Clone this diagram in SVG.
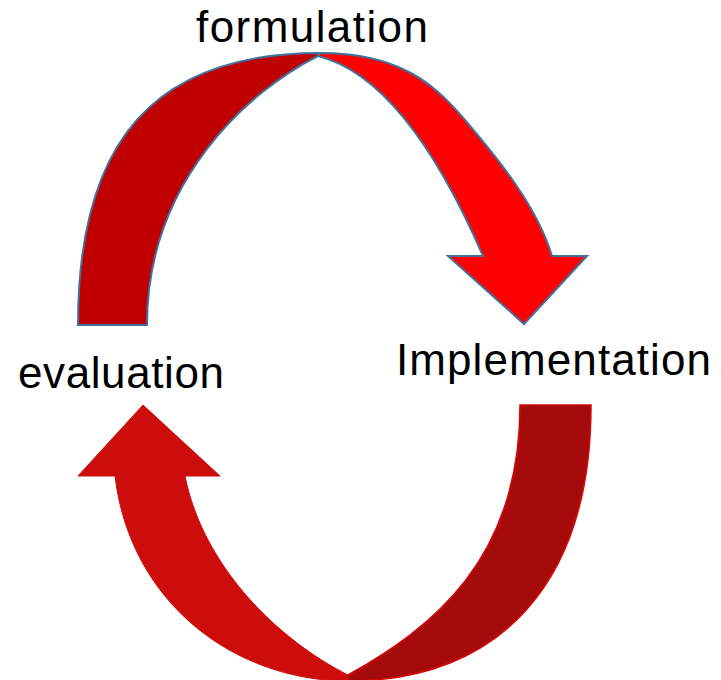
<svg xmlns="http://www.w3.org/2000/svg" width="721" height="680" viewBox="0 0 721 680">
<style>
.lbl{font-family:"Liberation Sans",Arial,sans-serif;font-size:44px;fill:#000}
.top{stroke:#41719C;stroke-width:2;stroke-linejoin:miter}
</style>
<rect width="721" height="680" fill="#fff"/>
<g id="connectors">
<g id="arc-top">
<path class="top" fill="#C00000" d="M78,325 C78,140 155,53 320,53 L318,56 C250,90 147,180 147,325 Z"/>
<path class="top" fill="#FF0000" d="M320,53 C400,53 434,84 465,120 C497.4,158.1 537,206 552,256 L587,256 L524,324 L448,256 L483,256 C451,182.4 394.6,75.2 318,56 Z"/>
</g>
<g id="arc-bottom">
<path fill="#A50B0B" stroke="#D40808" stroke-width="1.5" d="M520,405 L591,405 C591,585 498,681 348,681 L348,675 C432,628 520,560 520,405 Z"/>
<path fill="#CD0C0C" stroke="#CD0C0C" stroke-width="1" d="M143,405 L220,476 L185,476 C203,566 276.8,639 348,675 L348,681 C238,681 130.6,606 115,476 L78,476 Z"/>
</g>
</g>
<g id="node-formulation"><text class="lbl" x="196" y="41.5" textLength="232" lengthAdjust="spacing">formulation</text></g>
<g id="node-implementation"><text class="lbl" x="396" y="375" textLength="315" lengthAdjust="spacing">Implementation</text></g>
<g id="node-evaluation"><text class="lbl" x="18" y="388" textLength="206" lengthAdjust="spacing">evaluation</text></g>
</svg>
